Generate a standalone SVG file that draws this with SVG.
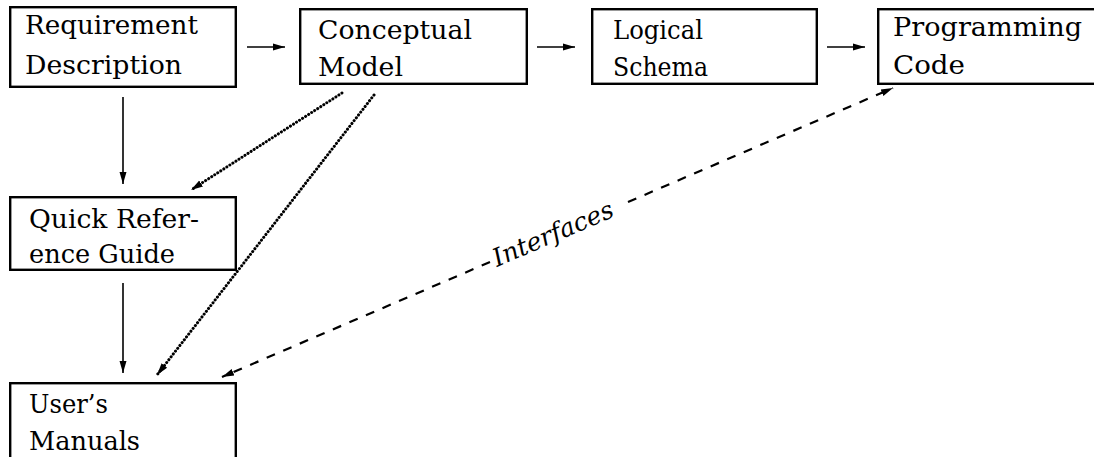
<svg xmlns="http://www.w3.org/2000/svg" width="1094" height="457" viewBox="0 0 1094 457">
<defs>
<style>
.box{fill:#fff;stroke:#000;stroke-width:2.4}
.lbl{font-family:'DejaVu Serif','Liberation Serif',serif;font-size:26px;fill:#000}
.itl{font-family:'DejaVu Serif','Liberation Serif',serif;font-style:italic;font-size:25px;fill:#000}
.solid{stroke:#000;stroke-width:1.6;fill:none}
.dot{stroke:#000;stroke-width:3;fill:none;stroke-dasharray:0.1 3.5;stroke-linecap:round}
.dash{stroke:#000;stroke-width:2.2;fill:none;stroke-dasharray:9 9}
</style>
<marker id="ah" markerUnits="userSpaceOnUse" markerWidth="13" markerHeight="9" refX="12" refY="4.5" orient="auto">
<path d="M0,1 L12,4.5 L0,8 z" fill="#000"/>
</marker>
</defs>
<rect x="0" y="0" width="1094" height="457" fill="#fff"/>

<g id="connectors">
<line class="solid" x1="247" y1="47" x2="285" y2="47" marker-end="url(#ah)"/>
<line class="solid" x1="537" y1="47" x2="575" y2="47" marker-end="url(#ah)"/>
<line class="solid" x1="827" y1="47" x2="865" y2="47" marker-end="url(#ah)"/>
<line class="solid" x1="123" y1="97" x2="123" y2="184" marker-end="url(#ah)"/>
<line class="solid" x1="123" y1="283" x2="123" y2="373" marker-end="url(#ah)"/>
<line class="dot" x1="342" y1="93" x2="191" y2="190" marker-end="url(#ah)"/>
<line class="dot" x1="374" y1="95" x2="157" y2="375" marker-end="url(#ah)"/>
<line class="dash" x1="490" y1="262" x2="222" y2="377" marker-end="url(#ah)"/>
<line class="dash" x1="628" y1="202" x2="893" y2="88" marker-end="url(#ah)"/>
<text class="itl" x="497" y="267" textLength="129" lengthAdjust="spacingAndGlyphs" transform="rotate(-23.3 497 267)">Interfaces</text>
</g>

<g id="requirement">
<rect class="box" x="10.2" y="7.2" width="225.6" height="79.6"/>
<text class="lbl" x="25" y="34" textLength="173" lengthAdjust="spacingAndGlyphs">Requirement</text>
<text class="lbl" x="25" y="74" textLength="157" lengthAdjust="spacingAndGlyphs">Description</text>
</g>

<g id="conceptual">
<rect class="box" x="300.2" y="9.2" width="226.6" height="74.6"/>
<text class="lbl" x="318" y="39" textLength="154" lengthAdjust="spacingAndGlyphs">Conceptual</text>
<text class="lbl" x="318" y="76" textLength="85" lengthAdjust="spacingAndGlyphs">Model</text>
</g>

<g id="logical">
<rect class="box" x="592.2" y="9.2" width="224.6" height="74.6"/>
<text class="lbl" x="613" y="39" textLength="90" lengthAdjust="spacingAndGlyphs">Logical</text>
<text class="lbl" x="613" y="76" textLength="95" lengthAdjust="spacingAndGlyphs">Schema</text>
</g>

<g id="programming">
<rect class="box" x="878.2" y="9.2" width="230" height="74.6"/>
<text class="lbl" x="893" y="36" textLength="189" lengthAdjust="spacingAndGlyphs">Programming</text>
<text class="lbl" x="893" y="74" textLength="72" lengthAdjust="spacingAndGlyphs">Code</text>
</g>

<g id="quickref">
<rect class="box" x="10.2" y="197.2" width="225.6" height="72.6"/>
<text class="lbl" x="29" y="228" textLength="170" lengthAdjust="spacingAndGlyphs">Quick Refer-</text>
<text class="lbl" x="29" y="263" textLength="146" lengthAdjust="spacingAndGlyphs">ence Guide</text>
</g>

<g id="manuals">
<rect class="box" x="10.2" y="383.2" width="225.6" height="90"/>
<text class="lbl" x="29" y="413" textLength="79" lengthAdjust="spacingAndGlyphs">User’s</text>
<text class="lbl" x="29" y="450" textLength="111" lengthAdjust="spacingAndGlyphs">Manuals</text>
</g>
</svg>
